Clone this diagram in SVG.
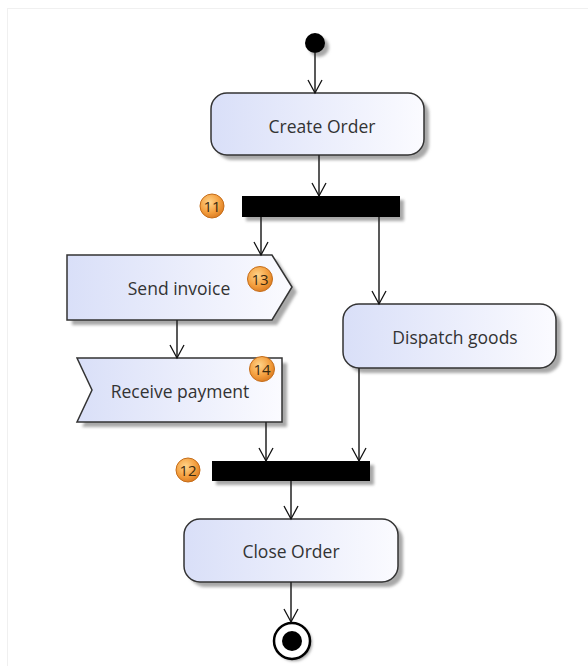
<svg xmlns="http://www.w3.org/2000/svg" width="588" height="666" viewBox="0 0 588 666">
<defs>
<linearGradient id="fillg" x1="0" y1="0" x2="1" y2="0">
<stop offset="0" stop-color="#d9dff8"/>
<stop offset="1" stop-color="#fbfbff"/>
</linearGradient>
<radialGradient id="badgeg" cx="0.4" cy="0.35" r="0.7">
<stop offset="0" stop-color="#ffd48a"/>
<stop offset="0.6" stop-color="#f4a040"/>
<stop offset="1" stop-color="#d9781e"/>
</radialGradient>
<marker id="arr" markerWidth="20" markerHeight="20" refX="14" refY="8" orient="auto" markerUnits="userSpaceOnUse">
<path d="M1,1 L14,8 L1,15" fill="none" stroke="#111" stroke-width="1.3"/>
</marker>
<filter id="blur" x="-20%" y="-20%" width="140%" height="140%"><feGaussianBlur stdDeviation="1.5"/></filter>
</defs>
<style>
.act{fill:url(#fillg);stroke:#333;stroke-width:1.5}
.shadow{fill:#a8a8a8;filter:url(#blur)}
.lbl{font-family:"Open Sans","Noto Sans",sans-serif;font-size:17.5px;fill:#333;text-anchor:middle;dominant-baseline:central}
.badge{fill:url(#badgeg);stroke:#c56d1a;stroke-width:1}
.bt{font-family:"Open Sans","Noto Sans",sans-serif;font-size:15px;fill:#3a2a10;text-anchor:middle;dominant-baseline:central}
.bar{fill:#000}
.con{stroke:#222;stroke-width:1.5;fill:none}
</style>
<rect x="0" y="0" width="588" height="666" fill="#fff"/>
<rect x="7.5" y="8.5" width="590" height="670" fill="none" stroke="#f0f0f0" stroke-width="1"/>

<g id="start">
<circle cx="319" cy="47" r="10" class="shadow"/>
<circle cx="315" cy="43" r="10" fill="#000"/>
</g>

<g id="createOrder">
<rect x="216" y="98" width="213" height="62" rx="16" class="shadow"/>
<rect x="211" y="93" width="213" height="62" rx="16" class="act"/>
<text x="322" y="126" class="lbl">Create Order</text>
</g>

<g id="fork11">
<rect x="246" y="200" width="158" height="21" class="shadow"/>
<rect x="242" y="196" width="158" height="21" class="bar"/>
<circle cx="212" cy="206" r="12" class="badge"/>
<text x="212" y="206" class="bt">11</text>
</g>

<g id="sendInvoice">
<path d="M72,260 L277,260 L297,292 L277,325 L72,325 Z" class="shadow"/>
<path d="M67,255 L272,255 L292,287 L272,320 L67,320 Z" class="act"/>
<text x="179" y="288" class="lbl">Send invoice</text>
<circle cx="260" cy="279" r="12.5" class="badge"/>
<text x="260" y="279" class="bt">13</text>
</g>

<g id="receivePayment">
<path d="M82,363 L287,363 L287,427 L82,427 L97,395 Z" class="shadow"/>
<path d="M77,358 L282,358 L282,422 L77,422 L92,390 Z" class="act"/>
<text x="180" y="391" class="lbl">Receive payment</text>
<circle cx="262" cy="369" r="12.5" class="badge"/>
<text x="262" y="369" class="bt">14</text>
</g>

<g id="dispatchGoods">
<rect x="348" y="309" width="213" height="64" rx="16" class="shadow"/>
<rect x="343" y="304" width="213" height="64" rx="16" class="act"/>
<text x="455" y="337" class="lbl">Dispatch goods</text>
</g>

<g id="join12">
<rect x="216" y="465" width="158" height="20" class="shadow"/>
<rect x="212" y="461" width="158" height="20" class="bar"/>
<circle cx="188" cy="470" r="12" class="badge"/>
<text x="188" y="470" class="bt">12</text>
</g>

<g id="closeOrder">
<rect x="189" y="524" width="214" height="63" rx="16" class="shadow"/>
<rect x="184" y="519" width="214" height="63" rx="16" class="act"/>
<text x="291" y="551" class="lbl">Close Order</text>
</g>

<g id="final">
<circle cx="294" cy="643" r="18" fill="#999" filter="url(#blur)"/>
<circle cx="292" cy="641" r="18" fill="#fff" stroke="#000" stroke-width="2.5"/>
<circle cx="292" cy="641" r="10" fill="#000"/>
</g>

<g id="connectors">
<line x1="315" y1="53" x2="315" y2="93" class="con" marker-end="url(#arr)"/>
<line x1="319" y1="155" x2="319" y2="196" class="con" marker-end="url(#arr)"/>
<line x1="261" y1="217" x2="261" y2="255" class="con" marker-end="url(#arr)"/>
<line x1="379" y1="217" x2="379" y2="304" class="con" marker-end="url(#arr)"/>
<line x1="177" y1="320" x2="177" y2="358" class="con" marker-end="url(#arr)"/>
<line x1="266" y1="422" x2="266" y2="461" class="con" marker-end="url(#arr)"/>
<line x1="359" y1="368" x2="359" y2="461" class="con" marker-end="url(#arr)"/>
<line x1="291" y1="481" x2="291" y2="519" class="con" marker-end="url(#arr)"/>
<line x1="291" y1="582" x2="291" y2="622" class="con" marker-end="url(#arr)"/>
</g>
</svg>
